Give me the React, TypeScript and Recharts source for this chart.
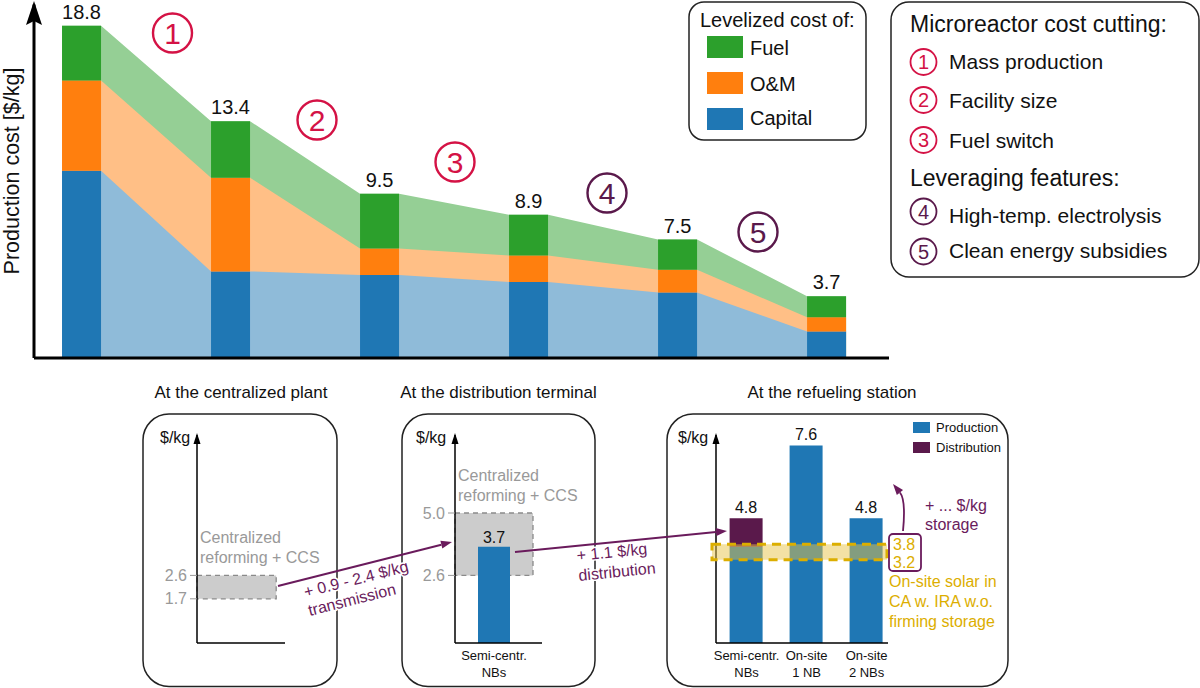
import React from 'react';
import { ComposedChart, Bar, Area, XAxis, YAxis, ReferenceArea, LabelList } from 'recharts';

// ---- top chart: cost cutting steps
const steps = ['Baseline', 'Mass production', 'Facility size', 'Fuel switch', 'High-temp. electrolysis', 'Clean energy subsidies'];
const capitalCost = [10.6, 4.9, 4.7, 4.3, 3.7, 1.5];
const omCost = [5.1, 5.3, 1.5, 1.5, 1.3, 0.8];
const fuelCost = [3.1, 3.2, 3.1, 2.3, 1.7, 1.2];
const totalLabels = ['18.8', '13.4', '9.5', '8.9', '7.5', '3.7'];

// ---- bottom panels
const plantRange = [1.7, 2.6];
const plantTicks = [1.7, 2.6];
const terminalRange = [2.6, 5.0];
const terminalTicks = [2.6, 5.0];
const terminalCats = ['Semi-centr.\nNBs'];
const terminalProd = [3.7];
const terminalLabels = ['3.7'];
const stationCats = ['Semi-centr.\nNBs', 'On-site\n1 NB', 'On-site\n2 NBs'];
const stationProd = [3.7, 7.6, 4.8];
const stationDist = [1.1, 0, 0];
const stationLabels = ['4.8', '7.6', '4.8'];
const solarRange = [3.2, 3.8];

const BLUE = '#1f77b4';
const ORANGE = '#ff7f0e';
const GREEN = '#2ca02c';
const PURPLE = '#5a194b';
const ARROW = '#6a1b5c';
const CRIMSON = '#d41245';
const GOLD = '#dcae00';
const GRAY = '#999999';

const X_LO = -0.319;
const X_HI = 5.419;
const HALF = 0.131;

const barData = steps.map((s, i) => ({
  x: i,
  name: s,
  capital: capitalCost[i],
  om: omCost[i],
  fuel: fuelCost[i],
  label: totalLabels[i],
}));

const connData = steps.flatMap((_, i) => {
  const cap = capitalCost[i];
  const capOm = cap + omCost[i];
  const total = capOm + fuelCost[i];
  return [
    { x: i - HALF, cap, capOm, total },
    { x: i + HALF, cap, capOm, total },
  ];
});

const plantData = [{ x: 0.5 }];
const terminalData = terminalCats.map((c, i) => ({ name: c, prod: terminalProd[i], label: terminalLabels[i] }));
const stationData = stationCats.map((c, i) => ({
  x: i + 1,
  name: c,
  prod: stationProd[i],
  dist: stationDist[i],
  prodLabel: stationDist[i] > 0 ? '' : stationLabels[i],
  distLabel: stationDist[i] > 0 ? stationLabels[i] : '',
}));

const FONT = 'Arial, "Liberation Sans", Helvetica, sans-serif';

function TwoLineTick(props: any) {
  const { x, y, text } = props;
  const lines = String(text).split('\n');
  return (
    <text x={x} y={y} textAnchor="middle" fontSize={13} fill="#111">
      {lines.map((l, i) => (
        <tspan key={i} x={x} y={y + 17 + i * 17}>
          {l}
        </tspan>
      ))}
    </text>
  );
}

function head(x1: number, y1: number, x2: number, y2: number, len = 11, w = 4) {
  const a = Math.atan2(y2 - y1, x2 - x1);
  const bx = x2 - len * Math.cos(a);
  const by = y2 - len * Math.sin(a);
  const px = -Math.sin(a) * w;
  const py = Math.cos(a) * w;
  return { pts: `${x2},${y2} ${bx + px},${by + py} ${bx - px},${by - py}`, bx, by };
}

function Arrow({ x1, y1, x2, y2, color }: any) {
  const h = head(x1, y1, x2, y2);
  return (
    <g>
      <line x1={x1} y1={y1} x2={h.bx} y2={h.by} stroke={color} strokeWidth={2} />
      <polygon points={h.pts} fill={color} />
    </g>
  );
}

function Circled({ cx, cy, r, n, color, size, sw }: any) {
  return (
    <g>
      <circle cx={cx} cy={cy} r={r} fill="none" stroke={color} strokeWidth={sw} />
      <text x={cx} y={cy + size * 0.36} textAnchor="middle" fontSize={size} fill={color}>
        {n}
      </text>
    </g>
  );
}

function Overlay() {
  const curved = head(906, 500, 893, 484);
  return (
    <svg width={1200} height={688} style={{ position: 'absolute', left: 0, top: 0, pointerEvents: 'none', fontFamily: FONT }}>
      {/* top y axis arrow + label */}
      <polygon points="34,1 42,25 34,21 26,25" fill="#000" />
      <text transform="translate(19,171) rotate(-90)" textAnchor="middle" fontSize={21.5} fill="#111">
        Production cost [$/kg]
      </text>

      <Circled cx={172.5} cy={33} r={19.5} n="1" color={CRIMSON} size={30} sw={2.4} />
      <Circled cx={317} cy={120} r={19.5} n="2" color={CRIMSON} size={30} sw={2.4} />
      <Circled cx={455} cy={162} r={19.5} n="3" color={CRIMSON} size={30} sw={2.4} />
      <Circled cx={607} cy={193} r={19.5} n="4" color={PURPLE} size={30} sw={2.4} />
      <Circled cx={758} cy={232} r={19.5} n="5" color={PURPLE} size={30} sw={2.4} />

      {/* legend: levelized cost */}
      <rect x={689} y={2} width={177} height={138} rx={15} fill="none" stroke="#222" strokeWidth={1.5} />
      <text x={700} y={27} fontSize={20} fill="#111">Levelized cost of:</text>
      <rect x={707} y={36} width={36} height={22} fill={GREEN} />
      <rect x={707} y={72} width={36} height={22} fill={ORANGE} />
      <rect x={707} y={108} width={36} height={22} fill={BLUE} />
      <text x={750} y={55} fontSize={20} fill="#111">Fuel</text>
      <text x={750} y={91} fontSize={20} fill="#111">O&amp;M</text>
      <text x={750} y={125} fontSize={20} fill="#111">Capital</text>

      {/* legend: cost cutting */}
      <rect x={891} y={2} width={308} height={275} rx={18} fill="none" stroke="#222" strokeWidth={1.5} />
      <text x={910} y={32} fontSize={23} fill="#111">Microreactor cost cutting:</text>
      <Circled cx={923.5} cy={62} r={13} n="1" color={CRIMSON} size={20} sw={1.8} />
      <Circled cx={923.5} cy={100} r={13} n="2" color={CRIMSON} size={20} sw={1.8} />
      <Circled cx={923.5} cy={140} r={13} n="3" color={CRIMSON} size={20} sw={1.8} />
      <text x={949} y={69} fontSize={21} fill="#111">Mass production</text>
      <text x={949} y={108} fontSize={21} fill="#111">Facility size</text>
      <text x={949} y={148} fontSize={21} fill="#111">Fuel switch</text>
      <text x={910} y={186} fontSize={23} fill="#111">Leveraging features:</text>
      <Circled cx={923.5} cy={211.5} r={13} n="4" color={PURPLE} size={20} sw={1.8} />
      <Circled cx={923.5} cy={251.5} r={13} n="5" color={PURPLE} size={20} sw={1.8} />
      <text x={949} y={223} fontSize={21} fill="#111">High-temp. electrolysis</text>
      <text x={949} y={258} fontSize={21} fill="#111">Clean energy subsidies</text>

      {/* panel titles and boxes */}
      <text x={241} y={398} textAnchor="middle" fontSize={17} fill="#111">At the centralized plant</text>
      <text x={498.5} y={398} textAnchor="middle" fontSize={17} fill="#111">At the distribution terminal</text>
      <text x={832} y={398} textAnchor="middle" fontSize={17} fill="#111">At the refueling station</text>
      <rect x={143} y={414} width={194} height={272.5} rx={26} fill="none" stroke="#222" strokeWidth={1.5} />
      <rect x={402} y={414} width={193} height={272.5} rx={26} fill="none" stroke="#222" strokeWidth={1.5} />
      <rect x={667} y={414} width={341} height={272.5} rx={26} fill="none" stroke="#222" strokeWidth={1.5} />

      {/* small axis arrows and units */}
      {[197, 455, 716].map((ax) => (
        <polygon key={ax} points={`${ax},433 ${ax + 3.5},444 ${ax - 3.5},444`} fill="#000" />
      ))}
      <text x={160} y={443} fontSize={16} fill="#111">$/kg</text>
      <text x={416} y={443} fontSize={16} fill="#111">$/kg</text>
      <text x={678} y={443} fontSize={16} fill="#111">$/kg</text>

      <text x={200} y={543} fontSize={16} fill={GRAY}>Centralized</text>
      <text x={200} y={563} fontSize={16} fill={GRAY}>reforming + CCS</text>
      <text x={458} y={481} fontSize={16} fill={GRAY}>Centralized</text>
      <text x={458} y={501} fontSize={16} fill={GRAY}>reforming + CCS</text>

      {/* transmission arrow */}
      <Arrow x1={278} y1={586} x2={452} y2={542} color={ARROW} />
      <g transform="translate(356,579) rotate(-14.2)" fontSize={16} fill={ARROW} stroke="#fff" strokeWidth={3} paintOrder="stroke">
        <text x={0} y={0} textAnchor="middle" dominantBaseline="central">+ 0.9 - 2.4 $/kg</text>
        <text x={-9} y={19} textAnchor="middle" dominantBaseline="central">transmission</text>
      </g>

      {/* distribution arrow */}
      <Arrow x1={515} y1={552} x2={727} y2={531} color={ARROW} />
      <g transform="translate(612,552) rotate(-5.66)" fontSize={16} fill={ARROW} stroke="#fff" strokeWidth={3} paintOrder="stroke">
        <text x={0} y={0} textAnchor="middle" dominantBaseline="central">+ 1.1 $/kg</text>
        <text x={3} y={20} textAnchor="middle" dominantBaseline="central">distribution</text>
      </g>

      {/* refueling station legend */}
      <rect x={913} y={422} width={17} height={11} fill={BLUE} />
      <rect x={913} y={442} width={17} height={11} fill={PURPLE} />
      <text x={936} y={432} fontSize={13} fill="#111">Production</text>
      <text x={936} y={452} fontSize={13} fill="#111">Distribution</text>

      {/* storage note */}
      <path d={`M903,531 Q906,500 ${curved.bx},${curved.by}`} fill="none" stroke={ARROW} strokeWidth={1.8} />
      <polygon points={curved.pts} fill={ARROW} />
      <text x={925} y={511} fontSize={16} fill={ARROW}>+ ... $/kg</text>
      <text x={925} y={530} fontSize={16} fill={ARROW}>storage</text>

      {/* solar range box and note */}
      <rect x={889} y={534} width={32} height={37} rx={4} fill="#fff" stroke={ARROW} strokeWidth={1.8} />
      <text x={893} y={550} fontSize={16} fill={GOLD}>3.8</text>
      <text x={893} y={568} fontSize={16} fill={GOLD}>3.2</text>
      <text x={889} y={587} fontSize={16} fill={GOLD}>On-site solar in</text>
      <text x={889} y={607} fontSize={16} fill={GOLD}>CA w. IRA w.o.</text>
      <text x={889} y={627} fontSize={16} fill={GOLD}>firming storage</text>
    </svg>
  );
}

const STATION_DOMAIN: [number, number] = [0.49, 3.357];

export default function App() {
  const axisBlack = { stroke: '#000', strokeWidth: 1.5 };
  return (
    <div style={{ position: 'absolute', left: 0, top: 0, width: 1200, height: 688, background: '#fff', overflow: 'hidden', fontFamily: FONT }}>
      {/* top chart */}
      <div style={{ position: 'absolute', left: 0, top: 0 }}>
        <ComposedChart width={900} height={362} data={barData} margin={{ top: 4.6, right: 11, bottom: 0, left: 33 }}>
          <XAxis
            xAxisId="bars"
            dataKey="x"
            type="number"
            domain={[X_LO, X_HI]}
            allowDataOverflow
            ticks={[0, 1, 2, 3, 4, 5]}
            tick={false}
            tickLine={false}
            height={4}
            axisLine={{ stroke: '#000', strokeWidth: 3 }}
          />
          <XAxis xAxisId="conn" dataKey="x" type="number" domain={[X_LO, X_HI]} allowDataOverflow hide />
          <YAxis domain={[0, 20]} allowDataOverflow width={1} tick={false} tickLine={false} axisLine={{ stroke: '#000', strokeWidth: 3 }} />
          <Area xAxisId="conn" data={connData} dataKey="total" type="linear" stroke="none" fill="#95cf95" fillOpacity={1} dot={false} activeDot={false} isAnimationActive={false} />
          <Area xAxisId="conn" data={connData} dataKey="capOm" type="linear" stroke="none" fill="#ffbf86" fillOpacity={1} dot={false} activeDot={false} isAnimationActive={false} />
          <Area xAxisId="conn" data={connData} dataKey="cap" type="linear" stroke="none" fill="#8fbbd9" fillOpacity={1} dot={false} activeDot={false} isAnimationActive={false} />
          <Bar xAxisId="bars" dataKey="capital" stackId="s" fill={BLUE} barSize={39} isAnimationActive={false} />
          <Bar xAxisId="bars" dataKey="om" stackId="s" fill={ORANGE} barSize={39} isAnimationActive={false} />
          <Bar xAxisId="bars" dataKey="fuel" stackId="s" fill={GREEN} barSize={39} isAnimationActive={false}>
            <LabelList dataKey="label" position="top" offset={7} fontSize={20} fill="#111" />
          </Bar>
        </ComposedChart>
      </div>

      {/* centralized plant */}
      <div style={{ position: 'absolute', left: 140, top: 425 }}>
        <ComposedChart width={160} height={225} data={plantData} margin={{ top: 10, right: 15, bottom: 0, left: 0 }}>
          <XAxis dataKey="x" type="number" domain={[0, 1]} allowDataOverflow tick={false} tickLine={false} height={7} axisLine={axisBlack} />
          <YAxis
            domain={[0, 8]}
            allowDataOverflow
            ticks={plantTicks}
            width={57}
            tickSize={7}
            tickMargin={3}
            tickLine={{ stroke: GRAY }}
            tick={{ fill: GRAY, fontSize: 16 }}
            tickFormatter={(v: number) => v.toFixed(1)}
            axisLine={axisBlack}
          />
          <ReferenceArea x1={0} x2={0.9} y1={plantRange[0]} y2={plantRange[1]} fill="#cccccc" fillOpacity={1} stroke="#8a8a8a" strokeDasharray="5 4" strokeWidth={1.3} />
        </ComposedChart>
      </div>

      {/* distribution terminal */}
      <div style={{ position: 'absolute', left: 400, top: 425 }}>
        <ComposedChart width={160} height={260} data={terminalData} margin={{ top: 10, right: 18, bottom: 0, left: 0 }}>
          <XAxis
            dataKey="name"
            padding={{ left: 0, right: 9 }}
            height={42}
            tickSize={0}
            tickMargin={0}
            tickLine={false}
            axisLine={axisBlack}
            tick={(p: any) => <TwoLineTick x={p.x} y={p.y} text={p.payload.value} />}
          />
          <YAxis
            domain={[0, 8]}
            allowDataOverflow
            ticks={terminalTicks}
            width={55}
            tickSize={7}
            tickMargin={3}
            tickLine={{ stroke: GRAY }}
            tick={{ fill: GRAY, fontSize: 16 }}
            tickFormatter={(v: number) => v.toFixed(1)}
            axisLine={axisBlack}
          />
          <ReferenceArea x1={terminalCats[0]} x2={terminalCats[0]} y1={terminalRange[0]} y2={terminalRange[1]} fill="#cccccc" fillOpacity={1} stroke="#8a8a8a" strokeDasharray="5 4" strokeWidth={1.3} />
          <Bar dataKey="prod" fill={BLUE} barSize={32} isAnimationActive={false}>
            <LabelList dataKey="label" position="top" offset={4} fontSize={16} fill="#111" />
          </Bar>
        </ComposedChart>
      </div>

      {/* refueling station */}
      <div style={{ position: 'absolute', left: 660, top: 425 }}>
        <ComposedChart width={240} height={260} data={stationData} margin={{ top: 10, right: 12, bottom: 0, left: 0 }}>
          <XAxis
            dataKey="x"
            type="number"
            domain={STATION_DOMAIN}
            allowDataOverflow
            ticks={[1, 2, 3]}
            height={42}
            tickSize={0}
            tickMargin={0}
            tickLine={false}
            axisLine={axisBlack}
            tick={(p: any) => <TwoLineTick x={p.x} y={p.y} text={stationCats[Math.round(p.payload.value) - 1]} />}
          />
          <YAxis domain={[0, 8]} allowDataOverflow width={56} tick={false} tickLine={false} axisLine={axisBlack} />
          <Bar dataKey="prod" stackId="r" fill={BLUE} barSize={33} isAnimationActive={false}>
            <LabelList dataKey="prodLabel" position="top" offset={5} fontSize={16} fill="#111" />
          </Bar>
          <Bar dataKey="dist" stackId="r" fill={PURPLE} barSize={33} isAnimationActive={false}>
            <LabelList dataKey="distLabel" position="top" offset={5} fontSize={16} fill="#111" />
          </Bar>
        </ComposedChart>
      </div>

      {/* solar cost band, drawn over the station bars */}
      <div style={{ position: 'absolute', left: 660, top: 425 }}>
        <ComposedChart width={240} height={260} data={stationData} margin={{ top: 10, right: 12, bottom: 0, left: 0 }}>
          <XAxis dataKey="x" type="number" domain={STATION_DOMAIN} allowDataOverflow height={42} tick={false} tickLine={false} axisLine={false} />
          <YAxis domain={[0, 8]} allowDataOverflow width={56} tick={false} tickLine={false} axisLine={false} />
          <ReferenceArea
            x1={0.423}
            x2={3.34}
            y1={solarRange[0]}
            y2={solarRange[1]}
            ifOverflow="visible"
            fill="#e8c44a"
            fillOpacity={0.5}
            stroke={GOLD}
            strokeWidth={3}
            strokeDasharray="9 6"
          />
        </ComposedChart>
      </div>

      <Overlay />
    </div>
  );
}
